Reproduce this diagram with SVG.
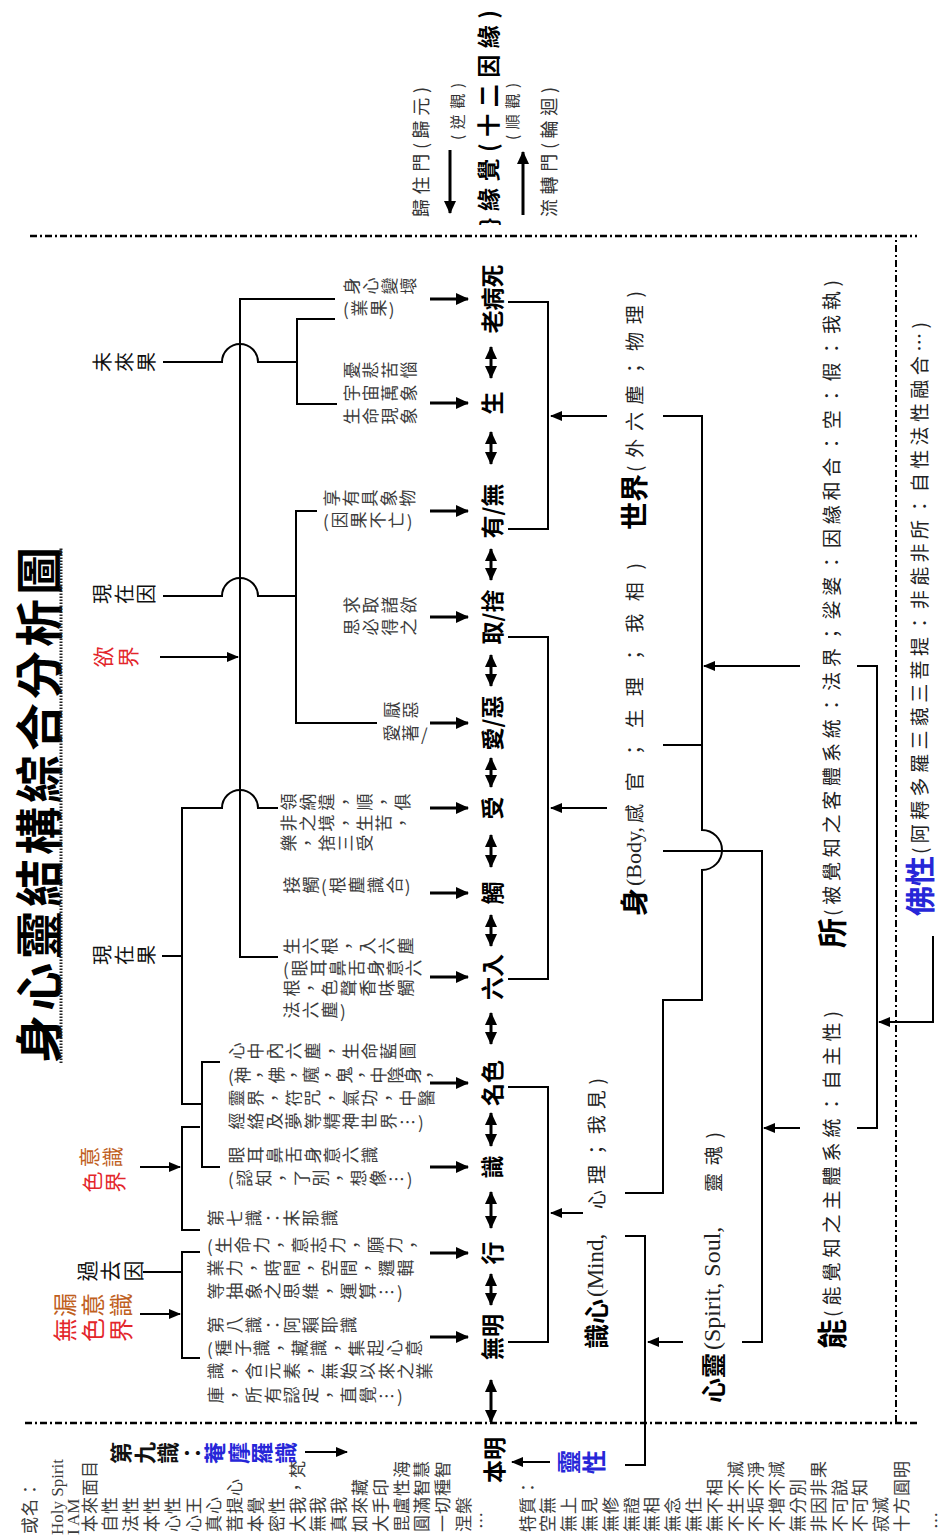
<svg xmlns="http://www.w3.org/2000/svg" width="949" height="1537" viewBox="0 0 949 1537">
<style>
text{font-family:"Noto Sans CJK TC","Noto Sans CJK SC",sans-serif;}
.v{writing-mode:vertical-rl;font-size:17px;letter-spacing:2px;fill:#3c3c3c;}
.lab{writing-mode:vertical-rl;font-size:20px;letter-spacing:2px;fill:#111;}
.h{dominant-baseline:central;}
.ch{dominant-baseline:central;font-size:23px;font-weight:700;text-anchor:middle;fill:#000;}
.li{dominant-baseline:central;font-size:17px;letter-spacing:1px;fill:#3c3c3c;}
.ln{fill:none;stroke:#000;stroke-width:2;}
.ar{fill:none;stroke:#000;stroke-width:2;marker-end:url(#m1);}
.ca{fill:none;stroke:#000;stroke-width:3;marker-end:url(#m2);}
.da{fill:none;stroke:#000;stroke-width:3;marker-start:url(#m2);marker-end:url(#m2);}
.dd{fill:none;stroke:#000;stroke-width:2.5;stroke-dasharray:7 3 2 3;}
.sr{font-family:"Liberation Serif",serif;}
.b{font-weight:700;}
.red{fill:#e3262b;}
.brn{fill:#c0601e;}
.blue{fill:#2626d8;}
.p{font-size:19px;fill:#222;}
</style>
<defs>
<marker id="m1" viewBox="0 0 12 10" refX="11" refY="5" markerWidth="12" markerHeight="10" markerUnits="userSpaceOnUse" orient="auto-start-reverse"><path d="M0 0L12 5L0 10z" fill="#000"/></marker>
<marker id="m2" viewBox="0 0 13 12" refX="12" refY="6" markerWidth="13" markerHeight="12" markerUnits="userSpaceOnUse" orient="auto-start-reverse"><path d="M0 0L13 6L0 12z" fill="#000"/></marker>
</defs>
<rect width="949" height="1537" fill="#fff"/>
<g transform="matrix(0,-1,1,0,0,1537)">

<g id="title">
<text class="h b" x="474" y="36" font-size="48" textLength="516" lengthAdjust="spacing">身心靈結構綜合分析圖</text>
<line x1="474" y1="61" x2="990" y2="61" stroke="#222" stroke-width="3" stroke-dasharray="1.5 1.5"/>
</g>

<g id="frame">
<path class="dd" d="M1301 30V917"/>
<path class="dd" d="M114 25V917"/>
<path class="dd" d="M115 896H1301" style="stroke-width:2"/>
</g>

<g id="connectors">
<path class="ln" d="M1238 335V240H580V278"/>
<path class="ln" d="M1175 163V222A18 18 0 0 1 1175 258V297"/>
<path class="ln" d="M1218 335V297H1133V337"/>
<path class="ln" d="M941 163V222A18 18 0 0 1 941 258V296"/>
<path class="ln" d="M1026 317V296H814V377"/>
<path class="ar" d="M880 160V238"/>
<path class="ln" d="M581 162V182"/>
<path class="ln" d="M729 278V258A18 18 0 0 0 729 222V182H433V202"/>
<path class="ln" d="M475 220V202H370V220"/>
<path class="ln" d="M410 200V182H307V200"/>
<path class="ar" d="M370 140V180"/>
<path class="ln" d="M285 200V182H179V200"/>
<path class="ln" d="M265 143V182"/>
<path class="ar" d="M223 140V180"/>

<path class="ca" d="M1238 430V468"/>
<path class="ca" d="M1134 430V468"/>
<path class="ca" d="M1026 430V468"/>
<path class="ca" d="M920 430V468"/>
<path class="ca" d="M814 430V468"/>
<path class="ca" d="M729 430V468"/>
<path class="ca" d="M644 430V468"/>
<path class="ca" d="M560 430V468"/>
<path class="ca" d="M454 430V468"/>
<path class="ca" d="M370 430V468"/>
<path class="ca" d="M284 430V468"/>
<path class="ca" d="M200 430V468"/>

<path class="da" d="M115 491H157"/>
<path class="da" d="M232 491H263"/>
<path class="da" d="M309 491H345"/>
<path class="da" d="M391 491H424"/>
<path class="da" d="M493 491H524"/>
<path class="da" d="M591 491H622"/>
<path class="da" d="M670 491H702"/>
<path class="da" d="M750 491H779"/>
<path class="da" d="M851 491H882"/>
<path class="da" d="M957 491H988"/>
<path class="da" d="M1073 491H1105"/>
<path class="da" d="M1159 491H1190"/>

<path class="ln" d="M195 508V548H450V508"/>
<path class="ar" d="M324 583V551"/>
<path class="ln" d="M558 508V548H900V508"/>
<path class="ar" d="M729 607V551"/>
<path class="ln" d="M1008 508V548H1235V508"/>
<path class="ar" d="M1121 607V551"/>
<path class="ln" d="M1121 663V702H707A20 20 0 0 1 667 702H537V663H344V625"/>
<path class="ln" d="M792 663V702"/>
<path class="ln" d="M686 663V762H195V742"/>
<path class="ar" d="M409 800V764"/>
<path class="ar" d="M871 800V704"/>
<path class="ln" d="M871 857V877H409V857"/>
<path class="ar" d="M601 933H515V879"/>
<path class="ar" d="M195 683V648"/>
<path class="ln" d="M301 625V645H72V625"/>
<path class="ar" d="M75 550V512"/>
<path class="ar" d="M85 305V347"/>
<path class="ca" d="M1387 450H1324"/>
<path class="ca" d="M1322 523H1385"/>
</g>

<g id="legend">
<text class="h" x="1320" y="420" font-size="18" fill="#333" textLength="130" lengthAdjust="spacing">歸住門(歸元)</text>
<text class="h" x="1397" y="456" font-size="15" fill="#333" textLength="57" lengthAdjust="spacing">(逆觀)</text>
<text class="h b" x="1311" y="487" font-size="22">}</text>
<text class="h b" x="1326" y="487" font-size="23" textLength="201" lengthAdjust="spacing">緣覺(十二因緣)</text>
<text class="h" x="1397" y="511" font-size="15" fill="#333" textLength="57" lengthAdjust="spacing">(順觀)</text>
<text class="h" x="1320" y="548" font-size="18" fill="#333" textLength="130" lengthAdjust="spacing">流轉門(輪迴)</text>
</g>

<g id="top-labels">
<g id="n-weilaiguo"><text class="lab" x="1175" y="92">未來果</text></g>
<g id="n-xianzaiyin"><text class="lab" x="943" y="92">現在因</text></g>
<g id="n-xianzaiguo"><text class="lab" x="582" y="92">現在果</text></g>
<g id="n-yujie"><text class="lab red" x="880" y="93" style="font-size:21px;letter-spacing:4px">欲界</text></g>
<g id="n-sejie"><text class="lab brn" x="380" y="79" style="font-size:21px">意識</text><text class="lab red" x="355" y="82" style="font-size:21px">色界</text></g>
<g id="n-guoquyin"><text class="lab" x="266" y="77" style="font-size:21px">過去因</text></g>
<g id="n-wulou"><text class="lab brn" x="232" y="53" style="font-size:24px;letter-spacing:4px">漏意識</text><text class="lab red" x="207" y="53" style="font-size:24px;letter-spacing:4px">無色界</text></g>
</g>

<g id="explanations">
<g id="e-laobingsi"><text class="v" x="1251" y="343">身心變壞</text><text class="v" x="1229" y="343">(業果)</text></g>
<g id="e-sheng"><text class="v" x="1167" y="343">憂悲苦惱</text><text class="v" x="1144" y="343">宇宙萬象</text><text class="v" x="1121" y="343">生命現象</text></g>
<g id="e-youwu"><text class="v" x="1039" y="323">享有具象物</text><text class="v" x="1017" y="323">(因果不亡)</text></g>
<g id="e-qushe"><text class="v" x="932" y="343">求取諸欲</text><text class="v" x="910" y="343">思必得之</text></g>
<g id="e-aie"><text class="v" x="827" y="383">厭惡</text><text class="v" x="804" y="383">愛著/</text></g>
<g id="e-shou"><text class="v" x="735" y="280">領納違，順，俱</text><text class="v" x="714" y="280">非之境，生苦，</text><text class="v" x="694" y="280">樂，捨三受</text></g>
<g id="e-chu"><text class="v" x="652" y="283">接觸(根塵識合)</text></g>
<g id="e-liuru"><text class="v" x="591" y="283">生六根，入六塵</text><text class="v" x="569" y="283">(眼耳鼻舌身意六</text><text class="v" x="549" y="283">根，色聲香味觸</text><text class="v" x="527" y="283">法六塵)</text></g>
<g id="e-mingse"><text class="v" x="486" y="228">心中內六塵，生命藍圖</text><text class="v" x="462" y="228" style="letter-spacing:0">(神，佛，魔，鬼，中陰身，</text><text class="v" x="439" y="228">靈界，符咒，氣功，中醫</text><text class="v" x="416" y="228">經絡及夢等精神世界…)</text></g>
<g id="e-shi"><text class="v" x="382" y="228">眼耳鼻舌身意六識</text><text class="v" x="359" y="228">(認知，了別，想像…)</text></g>
<g id="e-xing"><text class="v" x="319" y="207">第七識：末那識</text><text class="v" x="292" y="207">(生命力，意志力，願力，</text><text class="v" x="269" y="207">業力，時間，空間，邏輯</text><text class="v" x="246" y="207">等抽象之思維，運算…)</text></g>
<g id="e-wuming"><text class="v" x="212" y="207">第八識：阿賴耶識</text><text class="v" x="189" y="207">(種子識，藏識，集起心意</text><text class="v" x="166" y="207">識，含元素，無始以來之業</text><text class="v" x="142" y="207">庫，所有認定，直覺…)</text></g>
</g>

<g id="chain">
<g id="c-benming"><text class="ch" x="77" y="493">本明</text></g>
<g id="c-wuming"><text class="ch" x="200" y="491">無明</text></g>
<g id="c-xing"><text class="ch" x="284" y="491">行</text></g>
<g id="c-shi"><text class="ch" x="370" y="491">識</text></g>
<g id="c-mingse"><text class="ch" x="454" y="491">名色</text></g>
<g id="c-liuru"><text class="ch" x="560" y="491">六入</text></g>
<g id="c-chu"><text class="ch" x="644" y="491">觸</text></g>
<g id="c-shou"><text class="ch" x="729" y="491">受</text></g>
<g id="c-aie"><text class="ch" x="814" y="491">愛/惡</text></g>
<g id="c-qushe"><text class="ch" x="920" y="491">取/捨</text></g>
<g id="c-youwu"><text class="ch" x="1026" y="491">有/無</text></g>
<g id="c-sheng"><text class="ch" x="1134" y="491">生</text></g>
<g id="c-laobingsi"><text class="ch" x="1238" y="491">老病死</text></g>
</g>

<g id="bottom-nodes">
<g id="n-shixin">
<text class="h b" x="188" y="595" font-size="25">識心</text>
<text class="h sr" x="240" y="595" font-size="23" fill="#222">(Mind,</text>
<text class="h p" x="328" y="595" textLength="131" lengthAdjust="spacing">心理；我見)</text>
</g>
<g id="n-xinling">
<text class="h b" x="134" y="712" font-size="25">心靈</text>
<text class="h sr" x="187" y="712" font-size="24" fill="#222">(Spirit, Soul,</text>
<text class="h p" x="345" y="712" textLength="60" lengthAdjust="spacing">靈魂)</text>
</g>
<g id="n-shen">
<text class="h b" x="621" y="633" font-size="28">身</text>
<text class="h sr" x="651" y="633" font-size="22" fill="#222">(Body,</text>
<text class="h p" x="714" y="633" textLength="260" lengthAdjust="spacing">感官；生理；我相)</text>
</g>
<g id="n-shijie">
<text class="h b" x="1007" y="633" font-size="28">世界</text>
<text class="h p" x="1065" y="633" textLength="181" lengthAdjust="spacing">(外六塵；物理)</text>
</g>
<g id="n-neng">
<text class="h b" x="188" y="830" font-size="30">能</text>
<text class="h p" x="220" y="830" textLength="306" lengthAdjust="spacing">(能覺知之主體系統：自主性)</text>
</g>
<g id="n-suo">
<text class="h b" x="589" y="830" font-size="30">所</text>
<text class="h p" x="621" y="830" textLength="636" lengthAdjust="spacing">(被覺知之客體系統：法界；娑婆：因緣和合：空：假：我執)</text>
</g>
<g id="n-foxing">
<text class="h b blue" x="621" y="918" font-size="30">佛性</text>
<text class="h p" x="683" y="918" textLength="532" lengthAdjust="spacing">(阿耨多羅三藐三菩提：非能非所：自性法性融合…)</text>
</g>
<g id="n-lingxing"><text class="lab b blue" x="75" y="557" style="font-size:24px;letter-spacing:1px">靈性</text></g>
<g id="n-dijiu"><text class="lab b" x="84" y="110" style="font-size:22px;letter-spacing:1.4px">第九識：<tspan class="blue">菴摩羅識</tspan></text></g>
</g>

<g id="names-list">
<text class="li" x="3" y="28">或名：</text>
<text class="li sr" x="2" y="57" font-size="19" style="letter-spacing:0">Holy Spirit</text>
<text class="li sr" x="2" y="73" font-size="19" style="letter-spacing:0">I AM</text>
<text class="li" x="5" y="88">本來面目</text>
<text class="li" x="5" y="108.8">自性</text>
<text class="li" x="5" y="129.6">法性</text>
<text class="li" x="5" y="150.4">本性</text>
<text class="li" x="5" y="171.2">心性</text>
<text class="li" x="5" y="192">心王</text>
<text class="li" x="5" y="212.8">真心</text>
<text class="li" x="5" y="233.6">菩提心</text>
<text class="li" x="5" y="254.4">本覺</text>
<text class="li" x="5" y="275.2">密性</text>
<text class="li" x="5" y="296">大我，梵</text>
<text class="li" x="5" y="316.8">無我</text>
<text class="li" x="5" y="337.6">真我</text>
<text class="li" x="5" y="358.4">如來藏</text>
<text class="li" x="5" y="379.2">大手印</text>
<text class="li" x="5" y="400">毘盧性海</text>
<text class="li" x="5" y="420.8">圓滿智慧</text>
<text class="li" x="5" y="441.6">一切種智</text>
<text class="li" x="5" y="462.4">涅槃</text>
<text class="li" x="8" y="480">…</text>
</g>

<g id="traits-list">
<text class="li" x="5" y="526">特質：</text>
<text class="li" x="5" y="546.8">空無</text>
<text class="li" x="5" y="567.6">無上</text>
<text class="li" x="5" y="588.4">無見</text>
<text class="li" x="5" y="609.2">無修</text>
<text class="li" x="5" y="630">無證</text>
<text class="li" x="5" y="650.8">無相</text>
<text class="li" x="5" y="671.6">無念</text>
<text class="li" x="5" y="692.4">無住</text>
<text class="li" x="5" y="713.2">無不相</text>
<text class="li" x="5" y="734">不生不滅</text>
<text class="li" x="5" y="754.8">不垢不淨</text>
<text class="li" x="5" y="775.6">不增不減</text>
<text class="li" x="5" y="796.4">無分別</text>
<text class="li" x="5" y="817.2">非因非果</text>
<text class="li" x="5" y="838">不可說</text>
<text class="li" x="5" y="858.8">不可知</text>
<text class="li" x="5" y="879.6">寂滅</text>
<text class="li" x="5" y="900.4">十方圓明</text>
<text class="li" x="8" y="935">…</text>
</g>

</g>
</svg>
